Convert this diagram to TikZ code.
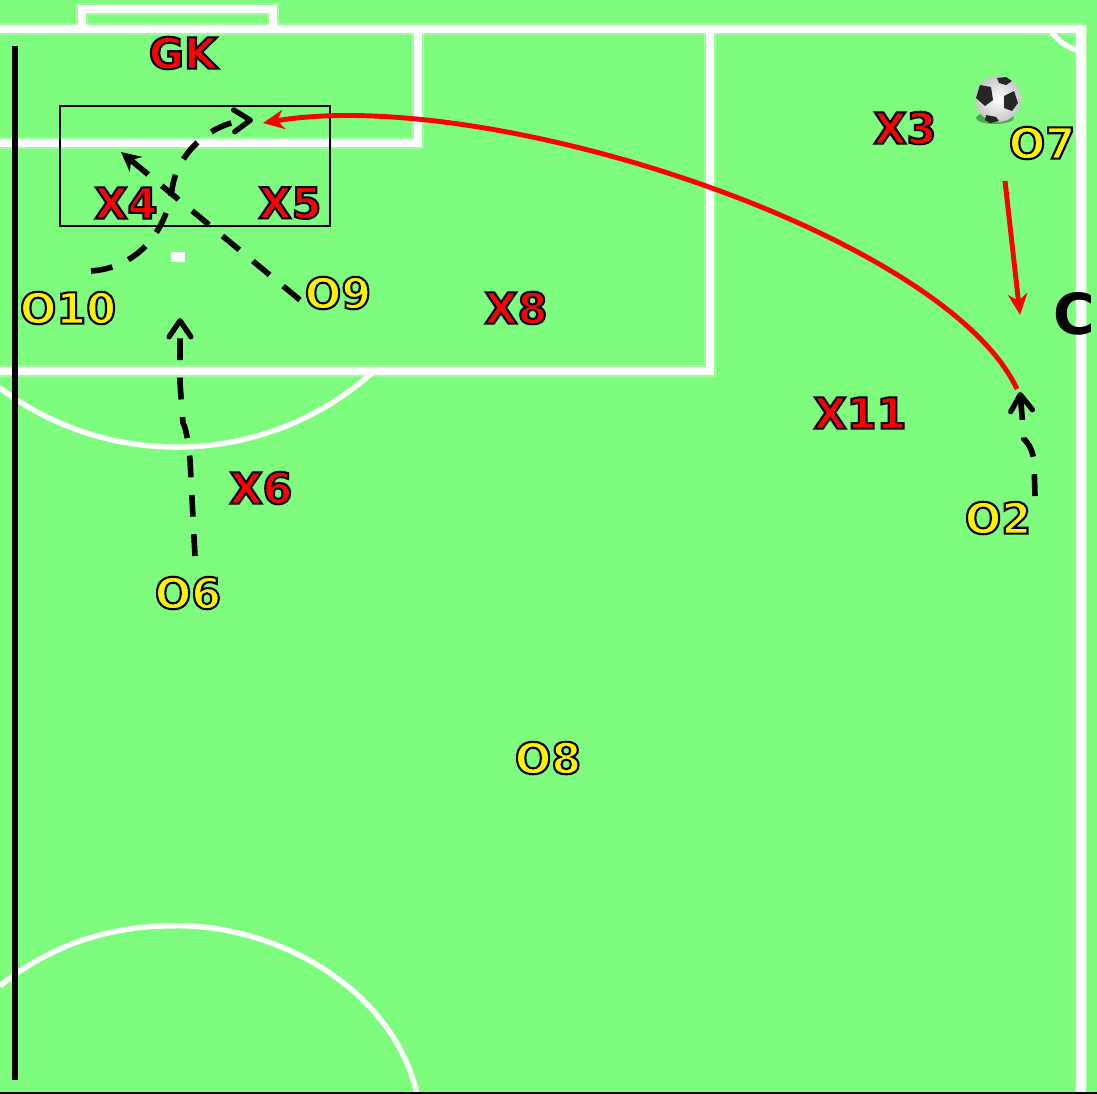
\documentclass[tikz,border=0pt]{standalone}
\usepackage{fontspec}
\usepackage{xcolor}
\usetikzlibrary{arrows.meta}
\setmainfont{DejaVu Sans}
\newfontfamily\lblfont{DejaVu Sans Bold}
\definecolor{pitch}{HTML}{7EFC7E}
\newcommand{\plabel}[2]{{\fontsize{12.2pt}{13pt}\selectfont\color{#1}\special{pdf:code 2 Tr 0.6 w 0 0 0 RG}#2\special{pdf:code 0 Tr 0 0 0 RG}}}
\begin{document}
\begin{tikzpicture}[
  x=0.01cm, y=-0.01cm,
  line/.style={draw=white, line width=2.2pt, preaction={draw=white, opacity=0.25, line width=3.2pt}},
  thinline/.style={draw=white, line width=1.5pt},
  xlbl/.style={inner sep=0pt, font=\lblfont},
  run/.style={draw=black, line width=1.6pt, dash pattern=on 6.2pt off 5pt},
  barb/.style={-{Straight Barb[length=4.6pt,width=6.2pt,line width=1.5pt,round]}},
  pass/.style={draw=red, line width=1.4pt, -{Stealth[length=6pt,width=5.5pt]}}
]
\useasboundingbox (0,0) rectangle (1097,1094);
\clip (0,0) rectangle (1097,1094);
\fill[pitch] (0,0) rectangle (1097,1094);
% pitch markings
\draw[line] (82,28) |- (273,9) -- (273,28);
\draw[line] (0,29) -- (1085,29);
\draw[line, line width=2.8pt] (1081,25) -- (1081,1094);
\draw[line] (0,143) -- (418,143) -- (418,29);
\draw[line] (0,371) -- (710,371) -- (710,29);
\draw[thinline] (372,373) arc[start angle=48.4, end angle=131.6, radius=294];
\draw[thinline] (0,986) .. controls (50,945) and (110,926) .. (170,926) .. controls (270,922) and (392,985) .. (417,1094);
\draw[thinline] (1052,33) .. controls (1060,42) and (1066,47) .. (1077,50);
\fill[white] (171,252) rectangle (185,262);
\draw[black, line width=1.8pt] (15,46) -- (15,1080);
\draw[black, line width=0.6pt] (0,1093) -- (1097,1093);
\draw[black, line width=0.55pt] (60,106) rectangle (330,226);
% ball
\fill[black!35!pitch] (995,118) ellipse (19 and 6);
\shade[inner color=white, outer color=black!22] (998,99) circle (23);
\fill[black!85] (980,85) -- (991,87) -- (993,100) -- (985,106) -- (976,98) -- cycle;
\fill[black!85] (1004,96) -- (1014,91) -- (1018,103) -- (1012,111) -- (1004,108) -- cycle;
\fill[black!85] (986,115) -- (996,117) -- (999,121) -- (990,123) -- (985,120) -- cycle;
\fill[black!85] (997,78) -- (1006,77) -- (1012,81) -- (1006,85) -- (999,83) -- cycle;
% players
\node[xlbl] (gk) at (183,53) {\plabel{red}{GK}};
\node[xlbl] (x3) at (905,128) {\plabel{red}{X3}};
\node[xlbl] (x4) at (126,203) {\plabel{red}{X4}};
\node[xlbl] (x5) at (290,203) {\plabel{red}{X5}};
\node[xlbl] (x6) at (261,488) {\plabel{red}{X6}};
\node[xlbl] (x8) at (516,308) {\plabel{red}{X8}};
\node[xlbl] (x11) at (860,413) {\plabel{red}{X11}};
\node[xlbl] (o2) at (998,518) {\plabel{yellow}{O2}};
\node[xlbl] (o6) at (188,593) {\plabel{yellow}{O6}};
\node[xlbl] (o7) at (1042,143) {\plabel{yellow}{O7}};
\node[xlbl] (o8) at (548,758) {\plabel{yellow}{O8}};
\node[xlbl] (o9) at (338,293) {\plabel{yellow}{O9}};
\node[xlbl] (o10) at (68,308) {\plabel{yellow}{O10}};
\node[inner sep=0pt, font=\lblfont\fontsize{16.1pt}{17pt}\selectfont] (c) at (1074,314) {C};
% runs and passes
\coordinate (o10s) at (91,271);
\coordinate (o10e) at (253,120);
\coordinate (o9s) at (300,300);
\coordinate (o9e) at (121,152);
\coordinate (o6s) at (195,556);
\coordinate (o6e) at (180,318);
\coordinate (o2s) at (1035,496);
\coordinate (o2e) at (1020,392);
\coordinate (o7s) at (1005,181);
\coordinate (o7e) at (1020,315);
\coordinate (o2p) at (1017,389);
\coordinate (pe) at (263,123);
\draw[run, barb] (o10s) .. controls (135,268) and (165,235) .. (172,190) .. controls (176,155) and (210,122) .. (o10e);
\draw[run, -{Stealth[length=5.5pt,width=5.5pt]}] (o9s) -- (o9e);
\draw[run, barb] (o6s) -- (190,460) .. controls (189,450) and (187,430) .. (183,423) -- (180,383) -- (o6e);
\draw[run, barb] (o2s) -- (1034,462) .. controls (1033,450) and (1028,443) .. (1024,439) -- (o2e);
\draw[pass] (o7s) -- (o7e);
\draw[pass] (o2p) .. controls (945,235) and (490,85) .. (pe);
\end{tikzpicture}
\end{document}
